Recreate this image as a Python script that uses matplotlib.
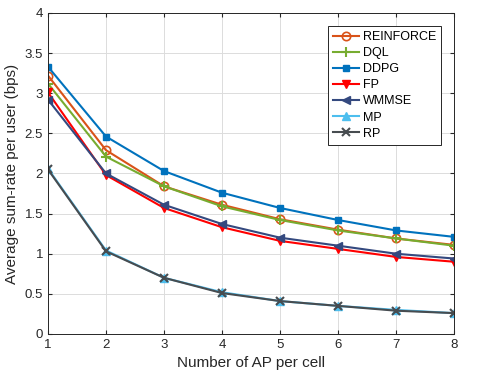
import numpy as np
import matplotlib
matplotlib.use("Agg")
import matplotlib.pyplot as plt

plt.rcParams['font.family'] = ['Liberation Sans', 'DejaVu Sans']

n_ap = [1, 2, 3, 4, 5, 6, 7, 8]
reinforce = [3.22, 2.29, 1.84, 1.61, 1.43, 1.30, 1.19, 1.11]
dql = [3.12, 2.21, 1.84, 1.59, 1.42, 1.29, 1.19, 1.10]
ddpg = [3.33, 2.46, 2.03, 1.76, 1.57, 1.42, 1.29, 1.21]
fp = [3.01, 1.98, 1.57, 1.33, 1.16, 1.06, 0.96, 0.90]
wmmse = [2.92, 2.00, 1.61, 1.37, 1.20, 1.10, 1.00, 0.94]
mp = [2.06, 1.04, 0.70, 0.52, 0.41, 0.35, 0.30, 0.26]
rp = [2.05, 1.03, 0.70, 0.51, 0.41, 0.35, 0.29, 0.26]

fig = plt.figure(figsize=(4.98, 3.82), dpi=100)
ax = fig.add_axes([0.0964, 0.1257, 0.8156, 0.8403])

ax.plot(n_ap, reinforce, color='#D95319', marker='o', mfc='none', ms=6, mew=1.2, lw=1.5, label='REINFORCE')
ax.plot(n_ap, dql, color='#77AC30', marker='+', ms=7, mew=1.5, lw=1.5, label='DQL')
ax.plot(n_ap, ddpg, color='#0072BD', marker='s', ms=5, lw=1.5, label='DDPG')
ax.plot(n_ap, fp, color='#FF0000', marker='v', ms=6, lw=1.5, label='FP')
ax.plot(n_ap, wmmse, color='#34497F', marker='<', ms=6, lw=1.5, label='WMMSE')
ax.plot(n_ap, mp, color='#4DBEEE', marker='^', ms=6, lw=1.5, label='MP')
ax.plot(n_ap, rp, color='#474C50', marker='x', ms=6, mew=1.5, lw=1.5, label='RP')

ax.set_xlim(1, 8)
ax.set_ylim(0, 4)
ax.set_xticks(n_ap)
ax.set_yticks(np.arange(0, 4.01, 0.5))
ax.set_yticklabels(['0', '0.5', '1', '1.5', '2', '2.5', '3', '3.5', '4'])
ax.grid(True, color='#DCDCDC', lw=0.7)
ax.set_axisbelow(True)
ax.tick_params(direction='in', top=True, right=True, labelsize=9.5, length=3, colors='#262626')
for s in ax.spines.values():
    s.set_color('#262626')
    s.set_linewidth(0.7)

ax.set_xlabel('Number of AP per cell', fontsize=11, color='#262626')
ax.set_ylabel('Average sum-rate per user (bps)', fontsize=11, color='#262626')

leg = ax.legend(loc='upper right', bbox_to_anchor=(0.886, 0.932), bbox_transform=fig.transFigure,
                borderaxespad=0, fontsize=9, fancybox=False, edgecolor='#262626', framealpha=1,
                handlelength=2.1, labelspacing=0.33, borderpad=0.4, handletextpad=0.3)
leg.get_frame().set_linewidth(0.7)

fig.savefig('out.png', dpi=100)
